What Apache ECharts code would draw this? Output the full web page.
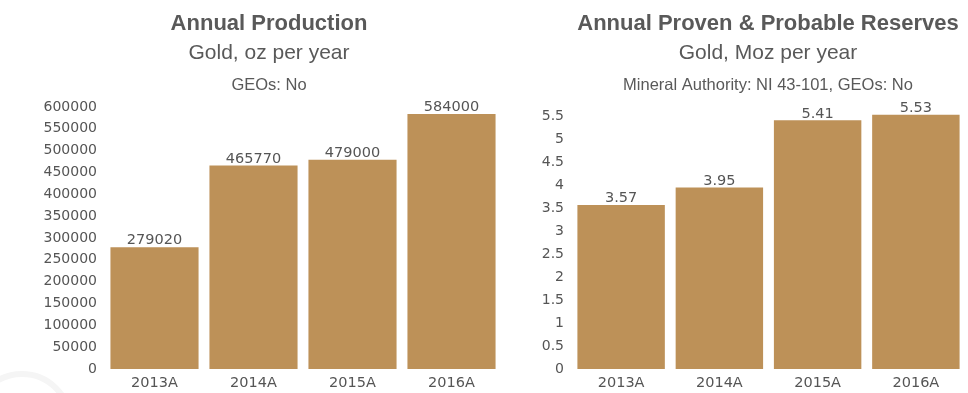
<!DOCTYPE html>
<html>
<head>
<meta charset="utf-8">
<script src="https://cdn.jsdelivr.net/npm/echarts@6/dist/echarts.min.js"></script>
<style>
  html, body { margin: 0; padding: 0; background: #ffffff; }
  #chart { width: 968px; height: 393px; }
</style>
</head>
<body>
<div id="chart"></div>
<script>
// Fiscal years shown on both panels
const years = ['2013A', '2014A', '2015A', '2016A'];

// Annual gold production, oz
const productionOz = [279020, 465770, 479000, 584000];

// Proven & probable gold reserves, Moz
const reservesMoz = [3.57, 3.95, 5.41, 5.53];

// Value-axis settings for each panel
const productionAxis = { min: 0, max: 600000, interval: 50000 };
const reservesAxis = { min: 0, max: 5.7, interval: 0.5 };

const BAR = '#bd9158';
const TXT = '#555555';
const TITLE = '#595959';
const NUM_FONT = 'DejaVu Sans';
const HEAD_FONT = 'Liberation Sans, Arial, Helvetica, sans-serif';

// Three centred heading lines above a panel
function titleBlock(cx, head, sub, note) {
  const line = (y, text, font) => ({
    type: 'text', x: cx, y: y, silent: true,
    style: { text: text, fill: TITLE, font: font, align: 'center', verticalAlign: 'middle' }
  });
  return [
    line(24, head, 'bold 22px ' + HEAD_FONT),
    line(53, sub, '21px ' + HEAD_FONT),
    line(85, note, '16.5px ' + HEAD_FONT)
  ];
}

function valueAxis(idx, cfg) {
  return {
    type: 'value', gridIndex: idx,
    min: cfg.min, max: cfg.max, interval: cfg.interval,
    splitLine: { show: false },
    axisLine: { show: false },
    axisTick: { show: false },
    axisLabel: {
      color: TXT, fontFamily: NUM_FONT, fontSize: 14, margin: 8,
      showMaxLabel: cfg.max % cfg.interval === 0,
      formatter: v => String(v)
    }
  };
}

function catAxis(idx) {
  return {
    type: 'category', gridIndex: idx, data: years,
    axisLine: { show: false },
    axisTick: { show: false },
    axisLabel: { color: TXT, fontFamily: NUM_FONT, fontSize: 14.5, margin: 7 }
  };
}

function barSeries(idx, values) {
  return {
    type: 'bar', xAxisIndex: idx, yAxisIndex: idx,
    data: values,
    barCategoryGap: '11%',
    itemStyle: { color: BAR },
    label: {
      show: true, position: 'top', distance: -1,
      color: TXT, fontFamily: NUM_FONT, fontSize: 14.5,
      formatter: '{c}'
    },
    silent: true
  };
}

const chart = echarts.init(document.getElementById('chart'), null, { renderer: 'canvas' });

chart.setOption({
  animation: false,
  backgroundColor: '#ffffff',
  grid: [
    { left: 105, top: 107, width: 396, height: 262 },
    { left: 572, top: 107, width: 393, height: 262 }
  ],
  xAxis: [catAxis(0), catAxis(1)],
  yAxis: [valueAxis(0, productionAxis), valueAxis(1, reservesAxis)],
  series: [barSeries(0, productionOz), barSeries(1, reservesMoz)],
  graphic: [
    { type: 'circle', x: 22, y: 422, shape: { cx: 0, cy: 0, r: 48 }, style: { fill: 'none', stroke: '#f5f5f5', lineWidth: 6 }, silent: true },
    ...titleBlock(269, 'Annual Production', 'Gold, oz per year', 'GEOs: No'),
    ...titleBlock(768, 'Annual Proven & Probable Reserves', 'Gold, Moz per year', 'Mineral Authority: NI 43-101, GEOs: No')
  ]
});
</script>
</body>
</html>
